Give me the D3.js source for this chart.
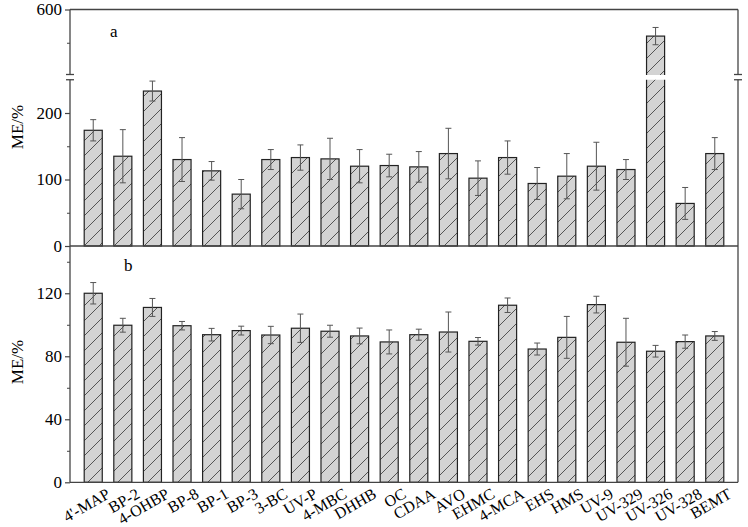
<!DOCTYPE html>
<html>
<head>
<meta charset="utf-8">
<script src="https://cdn.jsdelivr.net/npm/d3@7"></script>
<style>
  html, body { margin: 0; padding: 0; background: #fff; }
  svg { display: block; }
  svg text { font-family: "Times New Roman", "Liberation Serif", Times, serif; fill: #000; }
</style>
</head>
<body>
<svg id="chart" width="748" height="527"></svg>
<script>
// ---------- data ----------
const categories = ["4'-MAP","BP-2","4-OHBP","BP-8","BP-1","BP-3","3-BC","UV-P","4-MBC","DHHB","OC","CDAA","AVO","EHMC","4-MCA","EHS","HMS","UV-9","UV-329","UV-326","UV-328","BEMT"];
const meA  = [174,135,233,130,113,78,130,133,131,120,121,119,139,102,133,94,105,120,115,560,64,139];
const errA = [16,40,15,33,14,22,15,19,31,25,17,23,38,26,25,24,34,36,15,13,24,24];
const meB  = [120,99.7,111,99.4,93.7,96.3,93.5,97.8,95.9,92.9,89.1,93.7,95.4,89.5,112.4,84.6,92,112.8,88.9,83.2,89.3,92.9];
const errB = [6.8,4.4,5.7,2.7,4,2.8,5.5,9,3.8,5,7.6,3.5,12.7,2.4,4.6,3.8,13.3,5.3,15.2,3.7,4.2,2.8];

const ticksALow = [0,100,200], minorALow = [50,150];
const ticksAHigh = [600], minorAHigh = [550];
const ticksB = [0,40,80,120], minorB = [20,60,100,140];
const breakLow = 250, breakHigh = 500;

// ---------- layout ----------
const L = 70, R = 738;
const FONT = "'Times New Roman', 'Liberation Serif', Times, serif";
const svg = d3.select("#chart");
const axisColor = "#444";

const x = d3.scaleBand().domain(categories).range([L, R]).paddingInner(0.39).paddingOuter(0.48);

// top panel (broken axis)
const yALow = d3.scaleLinear().domain([0, breakLow]).range([246, 79.75]);
const yAHigh = d3.scaleLinear().domain([breakHigh, 600]).range([76, 9.5]);
const yA = v => v <= breakLow ? yALow(v) : yAHigh(v);
// bottom panel
const yB = d3.scaleLinear().domain([0, 150]).range([482.3, 246]);

// hatch pattern
const defs = svg.append("defs");
const pat = defs.append("pattern").attr("id", "hatch").attr("patternUnits", "userSpaceOnUse")
  .attr("width", 15).attr("height", 15);
pat.append("rect").attr("width", 15).attr("height", 15).attr("fill", "#d3d3d3");
pat.append("path").attr("d", "M0,15 L15,0 M-4,4 L4,-4 M11,19 L19,11")
  .attr("stroke", "#333").attr("stroke-width", 0.8);

function drawBars(vals, yf) {
  svg.append("g").selectAll("rect.bar").data(vals).join("rect").attr("class", "bar")
    .attr("x", (d, i) => x(categories[i]))
    .attr("width", x.bandwidth())
    .attr("y", d => yf(d))
    .attr("height", d => yf(0) - yf(d))
    .attr("fill", "url(#hatch)")
    .attr("stroke", "#222").attr("stroke-width", 1.2);
}
function drawErr(vals, errs, yf) {
  const g = svg.append("g").attr("stroke", "#555").attr("stroke-width", 1).attr("fill", "none");
  vals.forEach((d, i) => {
    const cx = x(categories[i]) + x.bandwidth() / 2;
    const y1 = yf(d + errs[i]), y2 = yf(d - errs[i]);
    g.append("line").attr("x1", cx).attr("x2", cx).attr("y1", y1).attr("y2", y2);
    g.append("line").attr("x1", cx - 3).attr("x2", cx + 3).attr("y1", y1).attr("y2", y1);
    g.append("line").attr("x1", cx - 3).attr("x2", cx + 3).attr("y1", y2).attr("y2", y2);
  });
}

drawBars(meA, yA);
drawErr(meA, errA, yA);
drawBars(meB, yB);
drawErr(meB, errB, yB);

// white gap through broken bars
const gapTop = yAHigh(breakHigh) - 1.5, gapBot = yALow(breakLow);
meA.forEach((d, i) => {
  if (d > breakLow) {
    svg.append("rect").attr("x", x(categories[i]) - 2).attr("width", x.bandwidth() + 4)
      .attr("y", gapTop + 0.5).attr("height", gapBot - gapTop - 0.5).attr("fill", "#fff");
  }
});

// ---------- frames ----------
const fr = svg.append("g").attr("stroke", axisColor).attr("stroke-width", 1.3).attr("fill", "none");
fr.append("line").attr("x1", L).attr("x2", R).attr("y1", yAHigh(600)).attr("y2", yAHigh(600));
fr.append("line").attr("x1", L).attr("x2", R).attr("y1", yALow(0)).attr("y2", yALow(0));
fr.append("line").attr("x1", L).attr("x2", R).attr("y1", yB(0)).attr("y2", yB(0));
[L, R].forEach(xx => {
  fr.append("line").attr("x1", xx).attr("x2", xx).attr("y1", yB(0)).attr("y2", gapBot);
  fr.append("line").attr("x1", xx).attr("x2", xx).attr("y1", gapTop).attr("y2", yAHigh(600));
  fr.append("line").attr("x1", xx - 4).attr("x2", xx + 4).attr("y1", gapTop).attr("y2", gapTop);
  fr.append("line").attr("x1", xx - 4).attr("x2", xx + 4).attr("y1", gapBot).attr("y2", gapBot);
});

// ---------- axes ----------
function yAxis(scale, major, minor) {
  const g = svg.append("g").attr("transform", `translate(${L},0)`);
  g.call(d3.axisLeft(scale).tickValues(major).tickSize(5).tickSizeOuter(0).tickPadding(3));
  g.attr("font-family", FONT).attr("font-size", 17);
  g.select(".domain").remove();
  g.selectAll(".tick line").attr("stroke", axisColor).attr("stroke-width", 1.2);
  g.selectAll(".tick text").attr("fill", "#000");
  const gm = svg.append("g").attr("transform", `translate(${L},0)`);
  gm.call(d3.axisLeft(scale).tickValues(minor).tickSize(3).tickSizeOuter(0).tickFormat(""));
  gm.select(".domain").remove();
  gm.selectAll(".tick line").attr("stroke", axisColor).attr("stroke-width", 1);
}
yAxis(yALow, ticksALow, minorALow);
yAxis(yAHigh, ticksAHigh, minorAHigh);
yAxis(yB, ticksB, minorB);

// x labels
const gx = svg.append("g").attr("font-family", FONT);
categories.forEach((c, i) => {
  const cx = x(c) + x.bandwidth() / 2;
  gx.append("text").attr("transform", `translate(${cx + 18},${497}) rotate(-30)`)
    .attr("text-anchor", "end").attr("font-size", 16).text(c);
});

// y titles
[127, 362].forEach(cy => {
  svg.append("text").attr("transform", `translate(23,${cy}) rotate(-90)`)
    .attr("text-anchor", "middle").attr("font-size", 17).attr("font-family", FONT).text("ME/%");
});

// panel labels
svg.append("text").attr("x", 110).attr("y", 36.7).attr("font-size", 17).attr("font-family", FONT).text("a");
svg.append("text").attr("x", 124).attr("y", 270.5).attr("font-size", 17).attr("font-family", FONT).text("b");
</script>
</body>
</html>
